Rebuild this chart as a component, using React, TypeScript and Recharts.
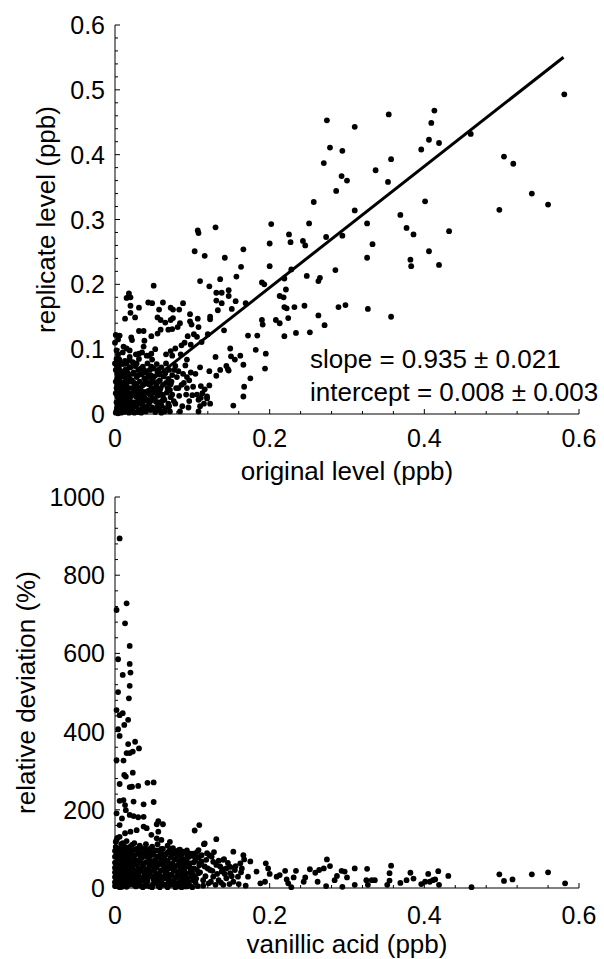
import { ScatterChart, Scatter, XAxis, YAxis, ReferenceLine } from 'recharts'

const FONT = '"Liberation Sans", Arial, Helvetica, sans-serif'

// axis ticks
const xMajor = [0, 0.2, 0.4, 0.6]
const xLabels = ['0', '0.2', '0.4', '0.6']
const topYMajor = [0, 0.1, 0.2, 0.3, 0.4, 0.5, 0.6]
const topYLabels = ['0', '0.1', '0.2', '0.3', '0.4', '0.5', '0.6']
const botYMajor = [0, 200, 400, 600, 800, 1000]
const botYLabels = ['0', '200', '400', '600', '800', '1000']

// minor tick positions (ticks only, no data)
const xAll = Array.from({ length: 16 }, (_, i) => +(i * 0.04).toFixed(2))
const topYAll = Array.from({ length: 31 }, (_, i) => +(i * 0.02).toFixed(2))
const botYAll = Array.from({ length: 26 }, (_, i) => i * 40)

// fit: replicate = 0.935 * original + 0.008
const fitSlope = 0.935
const fitIntercept = 0.008
const fitXEnd = 0.58

// top panel: original level vs replicate level (ppb)
const topSpread: [number, number][] = [
  [0.581, 0.493], [0.274, 0.453], [0.354, 0.462], [0.413, 0.468], [0.409, 0.449], [0.310, 0.443],
  [0.278, 0.411], [0.294, 0.406], [0.406, 0.423], [0.419, 0.418], [0.396, 0.408], [0.460, 0.432],
  [0.357, 0.393], [0.270, 0.387], [0.503, 0.397], [0.515, 0.386], [0.337, 0.376], [0.293, 0.367],
  [0.300, 0.360], [0.353, 0.358], [0.286, 0.344], [0.539, 0.340], [0.560, 0.323], [0.257, 0.327],
  [0.497, 0.315], [0.401, 0.328], [0.310, 0.314], [0.369, 0.307], [0.202, 0.293], [0.251, 0.294],
  [0.326, 0.294], [0.377, 0.287], [0.386, 0.277], [0.432, 0.282], [0.225, 0.277], [0.273, 0.273],
  [0.294, 0.275], [0.200, 0.263], [0.227, 0.265], [0.243, 0.267], [0.246, 0.260], [0.333, 0.262],
  [0.326, 0.241], [0.406, 0.251], [0.382, 0.238], [0.383, 0.228], [0.419, 0.230], [0.200, 0.228],
  [0.228, 0.223], [0.285, 0.222], [0.219, 0.209], [0.248, 0.213], [0.265, 0.210], [0.263, 0.205],
  [0.221, 0.192], [0.213, 0.182], [0.218, 0.180], [0.219, 0.165], [0.222, 0.163], [0.232, 0.165],
  [0.245, 0.167], [0.289, 0.165], [0.298, 0.168], [0.327, 0.162], [0.263, 0.152], [0.357, 0.150],
  [0.224, 0.148], [0.208, 0.145], [0.213, 0.140], [0.271, 0.137], [0.219, 0.120], [0.234, 0.125],
  [0.252, 0.126],
]

const topMid: [number, number][] = [
  [0.108, 0.279], [0.107, 0.283], [0.130, 0.288], [0.103, 0.251], [0.116, 0.244], [0.142, 0.241],
  [0.166, 0.254], [0.163, 0.227], [0.157, 0.212], [0.136, 0.208], [0.110, 0.205], [0.122, 0.197],
  [0.050, 0.198], [0.190, 0.203], [0.193, 0.200], [0.131, 0.187], [0.138, 0.187], [0.147, 0.191],
  [0.131, 0.175], [0.138, 0.171], [0.147, 0.182], [0.156, 0.174], [0.169, 0.171], [0.133, 0.160],
  [0.151, 0.162], [0.190, 0.145], [0.191, 0.138], [0.123, 0.150], [0.123, 0.146], [0.141, 0.129],
  [0.120, 0.123], [0.172, 0.121], [0.184, 0.121], [0.149, 0.101], [0.182, 0.099], [0.195, 0.093],
  [0.162, 0.090], [0.130, 0.088], [0.150, 0.089], [0.166, 0.076], [0.136, 0.068], [0.147, 0.067],
  [0.122, 0.066], [0.131, 0.059], [0.194, 0.070], [0.175, 0.055], [0.167, 0.042], [0.166, 0.027],
  [0.153, 0.013], [0.122, 0.044], [0.116, 0.038], [0.113, 0.032], [0.111, 0.025], [0.119, 0.024],
  [0.123, 0.016], [0.110, 0.012], [0.108, 0.004], [0.144, 0.074], [0.146, 0.069], [0.155, 0.084],
  [0.018, 0.186], [0.020, 0.180], [0.015, 0.179], [0.020, 0.167], [0.031, 0.164], [0.043, 0.172],
  [0.048, 0.171], [0.062, 0.172], [0.075, 0.161], [0.072, 0.164], [0.088, 0.171], [0.083, 0.161],
  [0.057, 0.161], [0.020, 0.156], [0.013, 0.147], [0.026, 0.149], [0.055, 0.149], [0.059, 0.145],
  [0.065, 0.141], [0.072, 0.145], [0.075, 0.148], [0.084, 0.140], [0.097, 0.154], [0.097, 0.143],
  [0.099, 0.138], [0.107, 0.147], [0.108, 0.134], [0.069, 0.130], [0.074, 0.131], [0.081, 0.134],
  [0.059, 0.130], [0.055, 0.124], [0.031, 0.128], [0.037, 0.128], [0.038, 0.113], [0.047, 0.120],
  [0.006, 0.121], [0.021, 0.118], [0.022, 0.114], [0.094, 0.120], [0.102, 0.123], [0.106, 0.119],
  [0.112, 0.111], [0.090, 0.110], [0.086, 0.106], [0.098, 0.107], [0.078, 0.101], [0.072, 0.097],
  [0.066, 0.092], [0.074, 0.090], [0.085, 0.092], [0.093, 0.084], [0.052, 0.100], [0.047, 0.093],
  [0.037, 0.104], [0.031, 0.093], [0.041, 0.090], [0.011, 0.104], [0.015, 0.101], [0.019, 0.098],
  [0.002, 0.098], [0.000, 0.110], [0.001, 0.122], [0.004, 0.115],
  [0.080, 0.057], [0.086, 0.045], [0.093, 0.057], [0.082, 0.040], [0.093, 0.040], [0.101, 0.042],
  [0.106, 0.030], [0.111, 0.043], [0.100, 0.029], [0.108, 0.022], [0.119, 0.027], [0.115, 0.016],
  [0.096, 0.020], [0.078, 0.016], [0.084, 0.004], [0.071, 0.004], [0.060, 0.002], [0.069, 0.016],
  [0.062, 0.027], [0.058, 0.037], [0.054, 0.047], [0.071, 0.037], [0.073, 0.050], [0.065, 0.063],
  [0.056, 0.068], [0.047, 0.073], [0.045, 0.057], [0.037, 0.068], [0.028, 0.078], [0.019, 0.083],
  [0.006, 0.083], [0.000, 0.078],
]

const topCluster: [number, number][] = [
  [0.002, 0.005], [0.004, 0.012], [0.006, 0.003], [0.008, 0.020], [0.010, 0.008], [0.012, 0.015],
  [0.003, 0.028], [0.005, 0.040], [0.007, 0.033], [0.009, 0.045], [0.011, 0.026], [0.013, 0.036],
  [0.015, 0.004], [0.017, 0.012], [0.019, 0.022], [0.021, 0.031], [0.023, 0.009], [0.025, 0.018],
  [0.027, 0.027], [0.029, 0.041], [0.031, 0.006], [0.033, 0.016], [0.035, 0.025], [0.037, 0.034],
  [0.039, 0.047], [0.041, 0.011], [0.043, 0.021], [0.045, 0.030], [0.047, 0.040], [0.049, 0.052],
  [0.051, 0.008], [0.053, 0.019], [0.055, 0.028], [0.057, 0.061], [0.060, 0.013], [0.062, 0.045],
  [0.064, 0.022], [0.067, 0.033], [0.069, 0.054], [0.072, 0.026],
  [0.001, 0.050], [0.003, 0.062], [0.005, 0.071], [0.002, 0.085], [0.004, 0.092], [0.006, 0.056],
  [0.008, 0.066], [0.010, 0.077], [0.012, 0.058], [0.014, 0.069], [0.016, 0.049], [0.018, 0.060],
  [0.020, 0.072], [0.022, 0.052], [0.024, 0.064], [0.026, 0.043], [0.028, 0.057], [0.030, 0.068],
  [0.032, 0.050], [0.034, 0.061], [0.036, 0.073], [0.038, 0.055], [0.040, 0.066], [0.042, 0.078],
  [0.044, 0.046], [0.046, 0.060], [0.048, 0.084], [0.050, 0.070], [0.052, 0.038], [0.054, 0.077],
  [0.001, 0.002], [0.002, 0.018], [0.003, 0.010], [0.004, 0.001], [0.005, 0.022], [0.006, 0.014],
  [0.007, 0.006], [0.008, 0.002], [0.009, 0.030], [0.010, 0.038], [0.011, 0.003], [0.012, 0.048],
  [0.013, 0.024], [0.014, 0.010], [0.015, 0.042], [0.016, 0.019], [0.017, 0.032], [0.018, 0.002],
  [0.019, 0.054], [0.020, 0.013], [0.022, 0.040], [0.024, 0.003], [0.026, 0.035], [0.028, 0.011],
  [0.030, 0.022], [0.032, 0.038], [0.034, 0.002], [0.036, 0.014], [0.038, 0.026], [0.040, 0.004],
  [0.042, 0.035], [0.044, 0.016], [0.046, 0.006], [0.048, 0.025], [0.050, 0.033], [0.052, 0.003],
  [0.055, 0.012], [0.058, 0.006], [0.061, 0.030], [0.065, 0.009],
  [0.003, 0.045], [0.007, 0.050], [0.011, 0.062], [0.015, 0.078], [0.019, 0.088], [0.023, 0.080],
  [0.027, 0.092], [0.031, 0.085], [0.035, 0.095], [0.044, 0.090], [0.056, 0.050], [0.060, 0.072],
  [0.066, 0.078], [0.070, 0.068], [0.074, 0.060], [0.078, 0.074], [0.082, 0.066], [0.088, 0.062],
  [0.091, 0.075], [0.096, 0.052],
  [0.001, 0.032], [0.001, 0.068], [0.002, 0.040], [0.002, 0.076], [0.003, 0.055], [0.004, 0.025],
  [0.005, 0.005], [0.005, 0.085], [0.006, 0.044], [0.007, 0.017], [0.007, 0.078], [0.008, 0.036],
  [0.009, 0.010], [0.009, 0.058], [0.010, 0.095], [0.011, 0.046], [0.012, 0.030], [0.013, 0.005],
  [0.013, 0.082], [0.014, 0.052], [0.015, 0.025], [0.016, 0.064], [0.017, 0.007], [0.018, 0.040],
  [0.019, 0.072], [0.020, 0.027], [0.021, 0.050], [0.021, 0.004], [0.022, 0.018], [0.023, 0.062],
  [0.024, 0.033], [0.025, 0.048], [0.025, 0.002], [0.026, 0.074], [0.027, 0.014], [0.028, 0.045],
  [0.029, 0.028], [0.030, 0.060], [0.030, 0.003], [0.031, 0.040], [0.032, 0.019], [0.033, 0.070],
  [0.033, 0.032], [0.035, 0.008], [0.036, 0.046], [0.037, 0.020], [0.038, 0.064], [0.039, 0.033],
  [0.040, 0.052], [0.041, 0.022], [0.042, 0.008], [0.043, 0.060], [0.044, 0.036], [0.045, 0.068],
  [0.046, 0.020], [0.047, 0.048], [0.048, 0.010], [0.049, 0.038], [0.050, 0.058], [0.051, 0.024],
  [0.053, 0.042], [0.054, 0.006], [0.055, 0.064], [0.056, 0.034], [0.057, 0.018], [0.058, 0.052],
  [0.059, 0.040], [0.061, 0.020], [0.063, 0.058], [0.064, 0.004], [0.066, 0.048], [0.068, 0.040],
  [0.070, 0.012], [0.072, 0.046], [0.074, 0.030], [0.076, 0.020], [0.077, 0.068], [0.079, 0.040],
  [0.083, 0.028], [0.087, 0.012], [0.089, 0.048], [0.092, 0.030], [0.095, 0.010], [0.098, 0.064],
  [0.104, 0.062], [0.110, 0.072],
]

// bottom panel: vanillic acid (ppb) vs relative deviation (%)
const botTail: [number, number][] = [
  [0.006, 894], [0.002, 711], [0.015, 728], [0.013, 677], [0.019, 619], [0.004, 585], [0.019, 573],
  [0.020, 551], [0.010, 545], [0.019, 517], [0.004, 501], [0.018, 485], [0.002, 455], [0.006, 442],
  [0.010, 447], [0.017, 430], [0.012, 417], [0.004, 406], [0.006, 389], [0.026, 374], [0.031, 357],
  [0.017, 368], [0.015, 345], [0.019, 345], [0.023, 349], [0.002, 327], [0.011, 326], [0.023, 295],
  [0.012, 289], [0.014, 285], [0.006, 266], [0.019, 258], [0.022, 259], [0.030, 261], [0.042, 269],
  [0.050, 270], [0.006, 223], [0.011, 225], [0.013, 212], [0.024, 221], [0.037, 214], [0.050, 220],
  [0.002, 191], [0.009, 178], [0.014, 199], [0.019, 187], [0.024, 184], [0.030, 181], [0.037, 182],
  [0.056, 171], [0.062, 163], [0.054, 163], [0.037, 157], [0.028, 148], [0.020, 144], [0.013, 140],
  [0.006, 161], [0.006, 131], [0.002, 123], [0.041, 153], [0.047, 136], [0.056, 144], [0.060, 123],
  [0.071, 118], [0.054, 127], [0.103, 147], [0.109, 161], [0.131, 125], [0.116, 114], [0.083, 97],
  [0.093, 87], [0.153, 93], [0.166, 84],
  [0.115, 112], [0.167, 73], [0.175, 68], [0.141, 74], [0.149, 54], [0.155, 46], [0.164, 50],
  [0.162, 63], [0.172, 29], [0.183, 42], [0.195, 63], [0.198, 50], [0.200, 36], [0.194, 16],
  [0.188, 12], [0.209, 29], [0.213, 33], [0.220, 44], [0.222, 22], [0.224, 12], [0.228, 2],
  [0.234, 44], [0.231, 27], [0.244, 16], [0.246, 27], [0.252, 48], [0.259, 39], [0.262, 16],
  [0.264, 46], [0.270, 50], [0.274, 73], [0.278, 56], [0.273, 5], [0.284, 20], [0.287, 31],
  [0.293, 44], [0.297, 42], [0.300, 27], [0.294, 3], [0.310, 50], [0.310, 8], [0.326, 49],
  [0.325, 20], [0.327, 8], [0.332, 20], [0.336, 20], [0.357, 57], [0.355, 38], [0.355, 19],
  [0.352, 8], [0.369, 13], [0.377, 20], [0.382, 39], [0.386, 24], [0.396, 10], [0.401, 16],
  [0.405, 36], [0.407, 16], [0.411, 20], [0.414, 22], [0.418, 43], [0.419, 8], [0.431, 31],
  [0.461, 2], [0.497, 35], [0.503, 18], [0.514, 22], [0.539, 35], [0.560, 40], [0.582, 12],
  [0.088, 93], [0.093, 76], [0.086, 55], [0.097, 63], [0.103, 80], [0.108, 97], [0.112, 84],
  [0.119, 89], [0.125, 80], [0.127, 67], [0.131, 59], [0.136, 55], [0.138, 42], [0.140, 72],
  [0.144, 50], [0.149, 38], [0.153, 16], [0.140, 8], [0.127, 29], [0.121, 12], [0.114, 20],
  [0.108, 38], [0.101, 20], [0.095, 8], [0.091, 29], [0.099, 42], [0.123, 46], [0.116, 55],
  [0.110, 63], [0.134, 20], [0.144, 25], [0.159, 29], [0.169, 6],
]

const botCluster: [number, number][] = [
  [0.001, 5], [0.002, 22], [0.003, 48], [0.004, 75], [0.005, 12], [0.006, 35], [0.007, 60],
  [0.008, 90], [0.009, 3], [0.010, 28], [0.011, 52], [0.012, 80], [0.013, 105], [0.014, 15],
  [0.015, 42], [0.016, 68], [0.017, 95], [0.018, 8], [0.019, 32], [0.020, 58], [0.021, 85],
  [0.022, 110], [0.023, 20], [0.024, 45], [0.025, 72], [0.026, 98], [0.027, 4], [0.028, 38],
  [0.029, 63], [0.030, 88], [0.031, 14], [0.032, 50], [0.033, 77], [0.034, 102], [0.035, 25],
  [0.036, 55], [0.037, 82], [0.038, 6], [0.039, 40], [0.040, 66], [0.041, 92], [0.042, 18],
  [0.043, 47], [0.044, 74], [0.045, 100], [0.046, 30], [0.047, 58], [0.048, 86], [0.049, 10],
  [0.050, 44], [0.051, 70], [0.052, 96], [0.053, 24], [0.054, 52], [0.055, 80], [0.056, 5],
  [0.057, 36], [0.058, 62], [0.059, 90], [0.060, 16], [0.061, 46], [0.062, 74], [0.063, 28],
  [0.064, 56], [0.065, 84], [0.066, 8], [0.067, 40], [0.068, 68], [0.069, 92], [0.070, 20],
  [0.071, 50], [0.072, 78], [0.073, 34], [0.074, 62], [0.075, 12], [0.076, 44], [0.077, 72],
  [0.078, 26], [0.079, 56], [0.080, 84], [0.081, 4], [0.082, 38], [0.083, 66], [0.084, 18],
  [0.085, 48], [0.086, 76], [0.087, 30], [0.088, 60], [0.089, 10], [0.090, 42], [0.092, 70],
  [0.094, 24], [0.096, 54], [0.098, 88], [0.100, 36], [0.102, 66], [0.104, 14], [0.106, 46],
  [0.108, 78],
  [0.000, 15], [0.000, 40], [0.000, 65], [0.000, 95], [0.001, 118], [0.001, 30], [0.002, 88],
  [0.003, 10], [0.004, 55], [0.005, 100], [0.006, 2], [0.007, 25], [0.008, 45], [0.009, 70],
  [0.010, 115], [0.011, 8], [0.012, 36], [0.013, 62], [0.014, 88], [0.015, 3], [0.016, 24],
  [0.017, 50], [0.018, 76], [0.019, 105], [0.020, 12], [0.022, 34], [0.024, 60], [0.026, 8],
  [0.028, 20], [0.030, 48], [0.032, 28], [0.034, 64], [0.036, 2], [0.038, 90], [0.040, 30],
  [0.042, 6], [0.044, 38], [0.046, 84], [0.048, 2], [0.050, 22], [0.052, 60], [0.055, 30],
  [0.058, 2], [0.060, 70], [0.062, 10], [0.065, 36], [0.068, 2], [0.070, 94], [0.072, 8],
  [0.075, 90], [0.078, 2], [0.080, 30], [0.083, 96], [0.086, 2], [0.090, 20], [0.093, 4],
  [0.097, 40], [0.100, 2], [0.103, 30], [0.107, 5],
  [0.003, 128], [0.008, 112], [0.015, 120], [0.025, 115], [0.032, 108], [0.040, 112],
  [0.048, 106], [0.055, 112], [0.062, 100], [0.068, 108], [0.075, 102], [0.082, 96],
  [0.000, 5], [0.000, 28], [0.000, 52], [0.000, 80], [0.001, 105], [0.002, 62], [0.003, 35],
  [0.004, 20], [0.004, 92], [0.005, 58], [0.006, 80], [0.007, 42], [0.008, 12], [0.008, 68],
  [0.009, 98], [0.010, 55], [0.011, 20], [0.012, 92], [0.013, 40], [0.014, 70], [0.015, 14],
  [0.016, 55], [0.016, 100], [0.017, 30], [0.018, 88], [0.019, 62], [0.020, 40], [0.021, 20],
  [0.021, 72], [0.022, 95], [0.023, 50], [0.024, 8], [0.025, 30], [0.026, 84], [0.027, 60],
  [0.028, 100], [0.029, 14], [0.030, 70], [0.031, 40], [0.032, 92], [0.033, 6], [0.034, 44],
  [0.035, 78], [0.036, 20], [0.037, 62], [0.038, 34], [0.039, 100], [0.040, 12], [0.041, 48],
  [0.042, 80], [0.043, 28], [0.044, 60], [0.045, 4], [0.046, 44], [0.047, 96], [0.048, 68],
  [0.049, 30], [0.050, 85], [0.051, 50], [0.052, 12], [0.053, 72], [0.054, 36], [0.055, 96],
  [0.056, 60], [0.057, 18], [0.058, 82], [0.059, 44], [0.060, 100], [0.061, 28], [0.062, 60],
  [0.063, 8], [0.064, 86], [0.065, 48], [0.066, 24], [0.067, 70], [0.068, 90], [0.069, 12],
  [0.070, 56], [0.071, 32], [0.072, 100], [0.073, 10], [0.074, 86], [0.075, 54], [0.076, 20],
  [0.077, 94], [0.078, 44], [0.079, 74], [0.080, 12], [0.081, 58], [0.082, 86], [0.083, 32],
  [0.084, 98], [0.085, 6], [0.086, 62], [0.087, 88], [0.088, 40], [0.089, 74], [0.090, 4],
  [0.091, 54], [0.092, 36], [0.093, 96], [0.094, 64], [0.095, 16], [0.096, 80], [0.097, 6],
  [0.098, 50], [0.099, 30], [0.101, 88], [0.102, 50], [0.104, 70], [0.105, 24], [0.106, 92],
  [0.109, 58], [0.110, 40], [0.112, 68], [0.114, 6], [0.117, 30], [0.118, 72], [0.120, 50],
  [0.122, 84], [0.124, 16], [0.126, 44], [0.128, 92], [0.130, 8], [0.132, 36], [0.134, 70],
  [0.137, 14], [0.139, 48], [0.142, 36], [0.146, 64], [0.148, 10], [0.151, 30], [0.156, 56],
  [0.160, 10], [0.163, 40],
]

const toPoints = (...groups: [number, number][][]) =>
  groups.flat().map(([x, y]) => ({ x, y }))

const topData = toPoints(topCluster, topMid, topSpread)
const botData = toPoints(botCluster, botTail)

const dot = (p: any) => <circle cx={p.cx} cy={p.cy} r={2.9} fill="#000" />

function yTick(majors: number[], labels: string[], margin: number) {
  return (props: any) => {
    const { x, y, payload } = props
    const ax = x + margin
    const i = majors.findIndex((m) => Math.abs(m - payload.value) < 1e-9)
    return (
      <g>
        <line x1={ax} x2={ax + (i >= 0 ? 5 : 3)} y1={y} y2={y} stroke="#000" strokeWidth={1} />
        {i >= 0 && (
          <text x={x} y={y} dy="0.36em" textAnchor="end" fontSize={25} fontFamily={FONT} fill="#000">
            {labels[i]}
          </text>
        )}
      </g>
    )
  }
}

function xTick(majors: number[], labels: string[], margin: number) {
  return (props: any) => {
    const { x, y, payload } = props
    const ay = y - margin
    const i = majors.findIndex((m) => Math.abs(m - payload.value) < 1e-9)
    return (
      <g>
        <line x1={x} x2={x} y1={ay} y2={ay - (i >= 0 ? 5 : 3)} stroke="#000" strokeWidth={1} />
        {i >= 0 && (
          <text x={x} y={y} dy="0.71em" textAnchor="middle" fontSize={25} fontFamily={FONT} fill="#000">
            {labels[i]}
          </text>
        )}
      </g>
    )
  }
}

const titleStyle = { fontSize: 26, fontFamily: FONT, fill: '#000', textAnchor: 'middle' as const }

export default function App() {
  return (
    <div style={{ position: 'absolute', left: 0, top: 0, width: 604, height: 959, background: '#fff' }}>
      <div style={{ position: 'absolute', left: 0, top: 0 }}>
        <ScatterChart width={604} height={500} margin={{ top: 25, right: 25, bottom: 0, left: 0 }}>
          <XAxis
            type="number"
            dataKey="x"
            domain={[0, 0.6]}
            ticks={xAll}
            interval={0}
            tickSize={0}
            tickMargin={15}
            tickLine={false}
            tick={xTick(xMajor, xLabels, 15)}
            axisLine={{ stroke: '#000', strokeWidth: 1 }}
            height={86}
            label={{ value: 'original level (ppb)', position: 'insideBottom', offset: 20, style: titleStyle }}
          />
          <YAxis
            type="number"
            dataKey="y"
            domain={[0, 0.6]}
            ticks={topYAll}
            interval={0}
            tickSize={0}
            tickMargin={10}
            tickLine={false}
            tick={yTick(topYMajor, topYLabels, 10)}
            axisLine={{ stroke: '#000', strokeWidth: 1 }}
            width={115}
            label={{ value: 'replicate level (ppb)', angle: -90, position: 'insideLeft', offset: 46, style: titleStyle }}
          />
          <Scatter data={topData} shape={dot} isAnimationActive={false} />
          <ReferenceLine
            segment={[
              { x: 0, y: fitIntercept },
              { x: fitXEnd, y: fitIntercept + fitSlope * fitXEnd },
            ]}
            stroke="#000"
            strokeWidth={3}
          />
        </ScatterChart>
      </div>
      <div style={{ position: 'absolute', left: 0, top: 480 }}>
        <ScatterChart width={604} height={479} margin={{ top: 17, right: 25, bottom: 0, left: 0 }}>
          <XAxis
            type="number"
            dataKey="x"
            domain={[0, 0.6]}
            ticks={xAll}
            interval={0}
            tickSize={0}
            tickMargin={18}
            tickLine={false}
            tick={xTick(xMajor, xLabels, 18)}
            axisLine={{ stroke: '#000', strokeWidth: 1 }}
            height={71}
            label={{ value: 'vanillic acid (ppb)', position: 'insideBottom', offset: 6, style: titleStyle }}
          />
          <YAxis
            type="number"
            dataKey="y"
            domain={[0, 1000]}
            ticks={botYAll}
            interval={0}
            tickSize={0}
            tickMargin={10}
            tickLine={false}
            tick={yTick(botYMajor, botYLabels, 10)}
            axisLine={{ stroke: '#000', strokeWidth: 1 }}
            width={115}
            label={{ value: 'relative deviation (%)', angle: -90, position: 'insideLeft', offset: 26, style: titleStyle }}
          />
          <Scatter data={botData} shape={dot} isAnimationActive={false} />
        </ScatterChart>
      </div>
      <svg width={604} height={959} style={{ position: 'absolute', left: 0, top: 0, pointerEvents: 'none' }}>
        <text x={310} y={368} fontSize={26} fontFamily={FONT} fill="#000">
          slope = 0.935 ± 0.021
        </text>
        <text x={310} y={401} fontSize={26} fontFamily={FONT} fill="#000">
          intercept = 0.008 ± 0.003
        </text>
      </svg>
    </div>
  )
}
